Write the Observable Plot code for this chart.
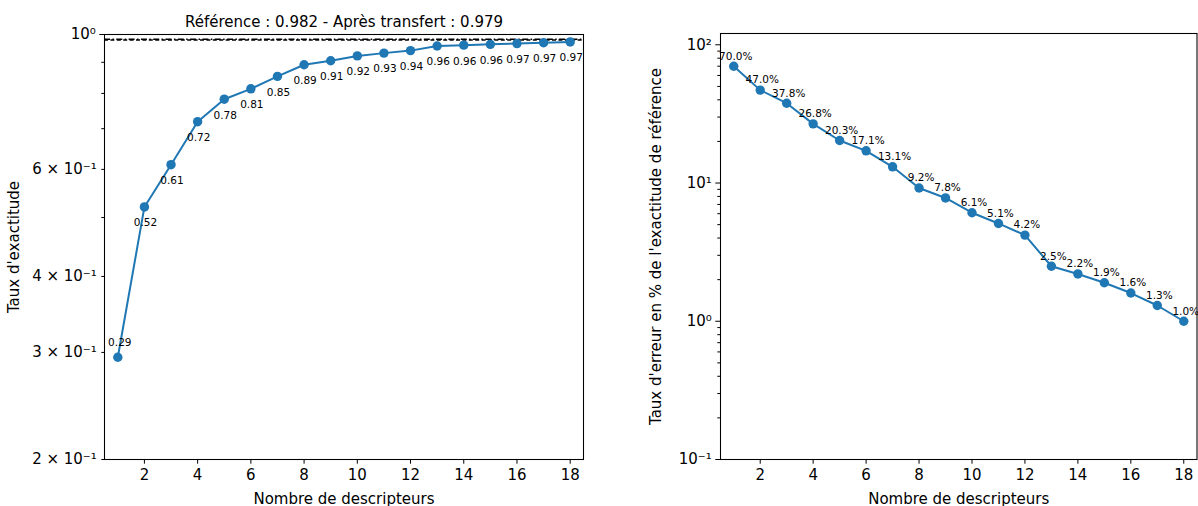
<!DOCTYPE html>
<html><head><meta charset="utf-8">
<script src="https://cdn.jsdelivr.net/npm/d3@7"></script>
<script src="https://cdn.jsdelivr.net/npm/@observablehq/plot@0.6"></script>
<style>
body{margin:0;background:#fff;}
#wrap{position:relative;width:1198px;height:506px;font-family:"DejaVu Sans";}
#wrap svg{position:absolute;top:0;}
</style></head><body><div id="wrap"></div>
<script>
const descripteurs = [1,2,3,4,5,6,7,8,9,10,11,12,13,14,15,16,17,18];
const exactitude = [0.2946,0.5205,0.6108,0.7188,0.7827,0.8141,0.8534,0.8917,0.9054,0.9221,0.9319,0.9408,0.9575,0.9604,0.9633,0.9663,0.9692,0.9722];
const exactitudeLabels = ["0.29","0.52","0.61","0.72","0.78","0.81","0.85","0.89","0.91","0.92","0.93","0.94","0.96","0.96","0.96","0.97","0.97","0.97"];
const erreurPct = [70.0,47.0,37.8,26.8,20.3,17.1,13.1,9.2,7.8,6.1,5.1,4.2,2.5,2.2,1.9,1.6,1.3,1.0];
const erreurLabels = ["70.0%","47.0%","37.8%","26.8%","20.3%","17.1%","13.1%","9.2%","7.8%","6.1%","5.1%","4.2%","2.5%","2.2%","1.9%","1.6%","1.3%","1.0%"];
const reference = 0.982;
const transfert = 0.979;
const titre = `Référence : ${reference} - Après transfert : ${transfert}`;
const xTicks = [2,4,6,8,10,12,14,16,18];
const leftYLabeled = [0.2,0.3,0.4,0.6];
const leftYLabelText = ["2 × 10⁻¹","3 × 10⁻¹","4 × 10⁻¹","6 × 10⁻¹"];
const leftYMinorPlain = [0.5,0.7,0.8,0.9];
const leftYMajor = [1];
const rightYMajor = [0.1,1,10,100];
const rightYMajorText = ["10⁻¹","10⁰","10¹","10²"];
const rightYMinor = [0.2,0.3,0.4,0.5,0.6,0.7,0.8,0.9,2,3,4,5,6,7,8,9,20,30,40,50,60,70,80,90];

const blue = "#1f77b4";
const accData = descripteurs.map((d,i)=>({n:d, v:exactitude[i], lab:exactitudeLabels[i]}));
const errData = descripteurs.map((d,i)=>({n:d, v:erreurPct[i], lab:erreurLabels[i]}));
const style = {fontFamily:"DejaVu Sans", fontSize:"15px", color:"black", background:"white", overflow:"visible"};

const xAxis = Plot.axisX(xTicks, {tickSize:4.7, tickPadding:5, label:"Nombre de descripteurs", labelAnchor:"center", labelArrow:"none", labelOffset:44});

const left = Plot.plot({
  width:595, height:506,
  marginLeft:104, marginRight:12, marginTop:34, marginBottom:47,
  style,
  x:{domain:[0.5,18.5]},
  y:{type:"log", domain:[0.2,1]},
  marks:[
    Plot.frame({stroke:"black", strokeWidth:1.07}),
    xAxis,
    Plot.axisY(leftYLabeled, {tickSize:2.7, tickPadding:5, tickFormat:(d)=>leftYLabelText[leftYLabeled.indexOf(d)], label:"Taux d'exactitude", labelAnchor:"center", labelArrow:"none", labelOffset:96}),
    Plot.axisY(leftYMinorPlain, {tickSize:2.7, tickFormat:()=>"", label:null}),
    Plot.axisY(leftYMajor, {tickSize:4.7, tickPadding:4, tickFormat:()=>"10⁰", label:null}),
    Plot.ruleY([reference], {stroke:"black", strokeWidth:1.5, strokeDasharray:"6,2.4,1.5,2.4"}),
    Plot.ruleY([transfert], {stroke:"black", strokeWidth:1.5, strokeDasharray:"4,2.4"}),
    Plot.line(accData, {x:"n", y:"v", stroke:blue, strokeWidth:2}),
    Plot.dot(accData, {x:"n", y:"v", fill:blue, r:4.7}),
    Plot.text(accData.slice(0,1), {x:"n", y:"v", text:"lab", dy:-15, dx:2, fontSize:10.5, fill:"black"}),
    Plot.text(accData.slice(1), {x:"n", y:"v", text:"lab", dy:16, dx:1, fontSize:10.5, fill:"black"}),
    Plot.text([titre], {frameAnchor:"top", dy:-18, fontSize:15, fill:"black"})
  ]
});

const right = Plot.plot({
  width:598, height:506,
  marginLeft:120, marginRight:1.5, marginTop:33, marginBottom:47,
  style,
  x:{domain:[0.5,18.5]},
  y:{type:"log", domain:[0.1,120.7]},
  marks:[
    Plot.frame({stroke:"black", strokeWidth:1.07}),
    xAxis,
    Plot.axisY(rightYMajor, {tickSize:4.7, tickPadding:4, tickFormat:(d)=>rightYMajorText[rightYMajor.indexOf(d)], label:"Taux d'erreur en % de l'exactitude de référence", labelAnchor:"center", labelArrow:"none", labelOffset:70}),
    Plot.axisY(rightYMinor, {tickSize:2.7, tickFormat:()=>"", label:null}),
    Plot.line(errData, {x:"n", y:"v", stroke:blue, strokeWidth:2}),
    Plot.dot(errData, {x:"n", y:"v", fill:blue, r:4.7}),
    Plot.text(errData, {x:"n", y:"v", text:"lab", dy:-10, dx:2, fontSize:10.5, fill:"black"})
  ]
});

const wrap = document.getElementById("wrap");
left.style.left = "0px";
right.style.left = "600px";
wrap.appendChild(left);
wrap.appendChild(right);
</script></body></html>
